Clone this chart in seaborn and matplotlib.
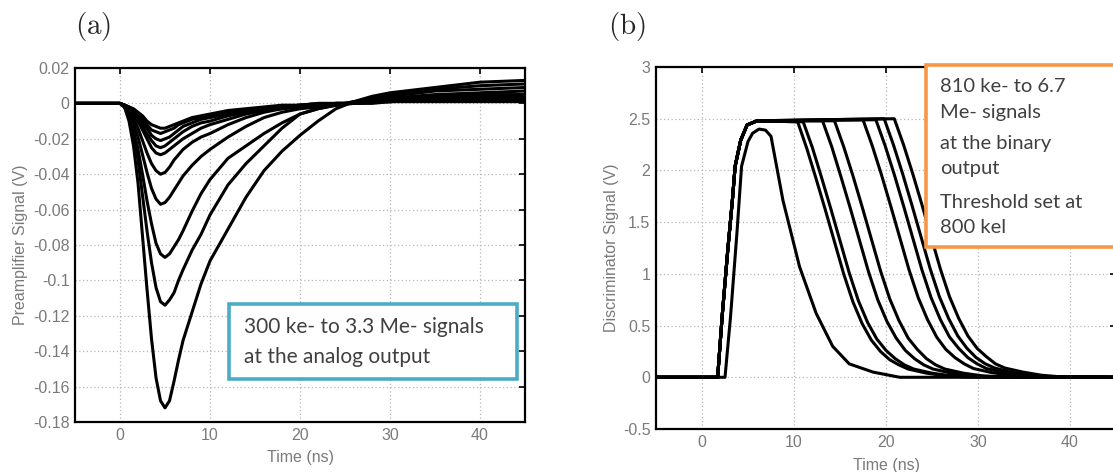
import matplotlib
matplotlib.use('Agg')
import matplotlib.pyplot as plt
import seaborn as sns
import pandas as pd
from matplotlib.patches import Rectangle
from matplotlib.ticker import FuncFormatter


# (a) preamplifier output, 300 ke- .. 3.3 Me-, sampled on one time grid (ns)
T_PRE = [-5, 0, 0.5, 1, 1.5, 2, 2.5, 3, 3.5, 4, 4.5, 5, 5.5, 6, 6.5, 7,
         8, 9, 10, 12, 14, 16, 18, 20, 22, 24, 26, 28, 30, 35, 40, 45]

PRE_1 = [0, 0, -0.001, -0.002, -0.003, -0.005, -0.007, -0.010, -0.012, -0.013, -0.014, -0.014,
         -0.013, -0.012, -0.011, -0.010, -0.008, -0.007, -0.006, -0.004, -0.003, -0.002,
         -0.001, -0.001, 0.0, 0.0, 0.0, 0.0, 0.001, 0.001, 0.001, 0.001]
PRE_2 = [0, 0, -0.001, -0.002, -0.004, -0.006, -0.009, -0.012, -0.015, -0.016, -0.017, -0.016,
         -0.015, -0.014, -0.012, -0.011, -0.009, -0.008, -0.007, -0.005, -0.004, -0.003,
         -0.002, -0.001, 0.0, 0.0, 0.0, 0.001, 0.001, 0.002, 0.002, 0.002]
PRE_3 = [0, 0, -0.001, -0.002, -0.004, -0.007, -0.011, -0.014, -0.018, -0.020, -0.021, -0.020,
         -0.019, -0.017, -0.015, -0.013, -0.011, -0.009, -0.008, -0.006, -0.004, -0.003,
         -0.002, -0.001, -0.001, 0.0, 0.0, 0.001, 0.001, 0.002, 0.003, 0.003]
PRE_4 = [0, 0, -0.001, -0.003, -0.005, -0.009, -0.013, -0.017, -0.021, -0.024, -0.025, -0.024,
         -0.022, -0.020, -0.018, -0.016, -0.013, -0.011, -0.010, -0.007, -0.005, -0.003,
         -0.002, -0.001, -0.001, 0.0, 0.0, 0.001, 0.001, 0.003, 0.003, 0.004]
PRE_5 = [0, 0, -0.001, -0.003, -0.006, -0.010, -0.015, -0.020, -0.025, -0.028, -0.029, -0.028,
         -0.026, -0.024, -0.022, -0.020, -0.017, -0.014, -0.012, -0.009, -0.006, -0.004,
         -0.003, -0.002, -0.001, 0.0, 0.0, 0.001, 0.002, 0.003, 0.004, 0.004]
PRE_6 = [0, 0, -0.001, -0.004, -0.008, -0.014, -0.021, -0.028, -0.034, -0.038, -0.040, -0.039,
         -0.036, -0.032, -0.029, -0.026, -0.022, -0.019, -0.017, -0.012, -0.008, -0.005,
         -0.003, -0.002, -0.001, 0.0, 0.0, 0.001, 0.002, 0.004, 0.005, 0.005]
PRE_7 = [0, 0, -0.001, -0.005, -0.011, -0.019, -0.029, -0.039, -0.048, -0.054, -0.057, -0.056,
         -0.053, -0.049, -0.045, -0.041, -0.035, -0.030, -0.026, -0.019, -0.013, -0.008,
         -0.005, -0.003, -0.002, -0.001, 0.0, 0.002, 0.003, 0.005, 0.006, 0.007]
PRE_8 = [0, 0, -0.002, -0.007, -0.015, -0.026, -0.040, -0.055, -0.068, -0.079, -0.085, -0.087,
         -0.085, -0.081, -0.077, -0.072, -0.061, -0.051, -0.043, -0.031, -0.024, -0.017,
         -0.011, -0.006, -0.003, -0.001, 0.001, 0.002, 0.004, 0.007, 0.008, 0.009]
PRE_9 = [0, 0, -0.002, -0.008, -0.018, -0.032, -0.052, -0.072, -0.090, -0.104, -0.112, -0.114,
         -0.111, -0.107, -0.100, -0.094, -0.083, -0.074, -0.063, -0.046, -0.034, -0.024,
         -0.014, -0.006, -0.003, -0.001, 0.001, 0.003, 0.005, 0.008, 0.010, 0.011]
PRE_10 = [0, 0, -0.002, -0.010, -0.024, -0.045, -0.075, -0.105, -0.133, -0.155, -0.168, -0.172,
          -0.168, -0.157, -0.145, -0.134, -0.118, -0.102, -0.089, -0.071, -0.053, -0.038,
          -0.027, -0.018, -0.010, -0.003, 0.001, 0.004, 0.006, 0.009, 0.012, 0.013]
PRE_CURVES = [PRE_1, PRE_2, PRE_3, PRE_4, PRE_5, PRE_6, PRE_7, PRE_8, PRE_9, PRE_10]

# (b) discriminator output; shared leading edge, then each curve's trailing edge
RISE_T = [-5, 1.7, 2.2, 2.8, 3.3, 3.6, 4.2, 4.9, 6.0]
RISE_V = [0, 0, 0.60, 1.23, 1.71, 2.04, 2.29, 2.44, 2.48]

LOW_T = [-5, 2.5, 3.1, 3.8, 4.3, 5.0, 5.5, 6.2, 6.9, 7.5, 8.8, 10.6, 12.4, 14.2, 16.0, 18.6, 21.5, 45]
LOW_V = [0, 0, 0.585, 1.40, 2.04, 2.28, 2.36, 2.40, 2.39, 2.33, 1.71, 1.07, 0.62, 0.30, 0.13, 0.05, 0.0, 0.0]

FALL_T = [
    [10.4, 11.4, 12.4, 13.4, 14.4, 15.4, 16.4, 17.4, 18.4, 19.4, 20.4, 21.4, 22.4, 24.4, 26.4, 28.4, 45],
    [11.0, 12.0, 13.0, 14.0, 15.0, 16.0, 17.0, 18.0, 19.0, 20.0, 21.0, 22.0, 23.0, 25.0, 27.0, 29.0, 45],
    [13.1, 14.1, 15.1, 16.1, 17.1, 18.1, 19.1, 20.1, 21.1, 22.1, 23.1, 24.1, 25.1, 27.1, 29.1, 31.1, 45],
    [14.4, 15.4, 16.4, 17.4, 18.4, 19.4, 20.4, 21.4, 22.4, 23.4, 24.4, 25.4, 26.4, 28.4, 30.4, 32.4, 45],
    [17.5, 18.5, 19.5, 20.5, 21.5, 22.5, 23.5, 24.5, 25.5, 26.5, 27.5, 28.5, 29.5, 31.5, 33.5, 35.5, 45],
    [18.9, 19.9, 20.9, 21.9, 22.9, 23.9, 24.9, 25.9, 26.9, 27.9, 28.9, 29.9, 30.9, 32.9, 34.9, 36.9, 45],
    [19.8, 20.8, 21.8, 22.8, 23.8, 24.8, 25.8, 26.8, 27.8, 28.8, 29.8, 30.8, 31.8, 33.8, 35.8, 37.8, 45],
    [20.9, 21.9, 22.9, 23.9, 24.9, 25.9, 26.9, 27.9, 28.9, 29.9, 30.9, 31.9, 32.9, 34.9, 36.9, 38.9, 45],
]
FALL_V = [
    [2.47, 2.21, 1.92, 1.62, 1.31, 1.00, 0.73, 0.52, 0.36, 0.25, 0.17, 0.12, 0.08, 0.04, 0.015, 0.005, 0.0],
    [2.47, 2.22, 1.93, 1.63, 1.32, 1.01, 0.74, 0.53, 0.37, 0.26, 0.18, 0.12, 0.08, 0.04, 0.015, 0.005, 0.0],
    [2.48, 2.23, 1.94, 1.64, 1.33, 1.02, 0.75, 0.54, 0.38, 0.26, 0.18, 0.12, 0.08, 0.04, 0.015, 0.005, 0.0],
    [2.48, 2.23, 1.95, 1.65, 1.34, 1.03, 0.76, 0.55, 0.38, 0.27, 0.18, 0.12, 0.08, 0.04, 0.015, 0.005, 0.0],
    [2.49, 2.24, 1.96, 1.66, 1.35, 1.04, 0.77, 0.56, 0.39, 0.27, 0.19, 0.13, 0.085, 0.045, 0.02, 0.005, 0.0],
    [2.49, 2.24, 1.96, 1.66, 1.35, 1.04, 0.77, 0.56, 0.39, 0.28, 0.19, 0.13, 0.085, 0.045, 0.02, 0.005, 0.0],
    [2.50, 2.25, 1.97, 1.67, 1.36, 1.05, 0.78, 0.57, 0.40, 0.28, 0.19, 0.13, 0.09, 0.045, 0.02, 0.005, 0.0],
    [2.50, 2.25, 1.97, 1.67, 1.36, 1.05, 0.78, 0.57, 0.40, 0.28, 0.20, 0.13, 0.09, 0.05, 0.02, 0.005, 0.0],
]

TEXT_A = ['300 ke- to 3.3 Me- signals', 'at the analog output']
TEXT_B = ['810 ke- to 6.7', 'Me- signals', 'at the binary', 'output', 'Threshold set at', '800 kel']

GRAY = '#7a7a7a'


def tick_fmt(v, pos):
    """
    MATLAB-like tick labels: 0, -0.1, 0.02 ...
    """
    if abs(v) < 1e-12:
        return '0'
    return '%g' % v


def style_axes(ax):
    """
    Boxed axes with inward ticks on all sides and dotted grid
    """
    for s in ax.spines.values():
        s.set_visible(True)
        s.set_color('black')
        s.set_linewidth(1.6)
    ax.tick_params(direction='in', length=4, width=1.2, color='black',
                   top=True, right=True, labelcolor=GRAY, labelsize=11.5, pad=4)
    ax.grid(True, color='#b5b5b5', linestyle=(0, (1, 2)), linewidth=0.9)
    ax.set_axisbelow(True)
    ax.yaxis.set_major_formatter(FuncFormatter(tick_fmt))
    ax.set_xticks([0, 10, 20, 30, 40])


sns.set_theme(style='white')
plt.rcParams['font.family'] = ['Liberation Sans', 'DejaVu Sans']
plt.rcParams['axes.unicode_minus'] = False
plt.rcParams['mathtext.fontset'] = 'cm'

fig = plt.figure(figsize=(11.13, 4.72), dpi=100)
ax_a = fig.add_axes([0.0674, 0.1059, 0.4043, 0.7500])
ax_b = fig.add_axes([0.5894, 0.0911, 0.4133, 0.7669])

# panel (a)
rows = []
for i, vals in enumerate(PRE_CURVES):
    for t, v in zip(T_PRE, vals):
        rows.append((i, t, v))
pre_df = pd.DataFrame(rows, columns=['curve', 't', 'v'])
sns.lineplot(data=pre_df, x='t', y='v', units='curve', estimator=None, sort=False,
             color='black', lw=2.2, ax=ax_a)
ax_a.set_xlim(-5, 45)
ax_a.set_ylim(-0.18, 0.02)
ax_a.set_yticks([0.02, 0, -0.02, -0.04, -0.06, -0.08, -0.1, -0.12, -0.14, -0.16, -0.18])
style_axes(ax_a)
ax_a.set_xlabel('Time (ns)', color=GRAY, fontsize=11.5)
ax_a.set_ylabel('Preamplifier Signal (V)', color=GRAY, fontsize=11.5)
ax_a.xaxis.set_label_coords(0.5, -0.08)
ax_a.yaxis.set_label_coords(-0.105, 0.5)

# panel (b)
rows = []
for t, v in zip(LOW_T, LOW_V):
    rows.append((0, t, v))
for i, (ft, fv) in enumerate(zip(FALL_T, FALL_V)):
    for t, v in zip(RISE_T + ft, RISE_V + fv):
        rows.append((i + 1, t, v))
dis_df = pd.DataFrame(rows, columns=['curve', 't', 'v'])
sns.lineplot(data=dis_df, x='t', y='v', units='curve', estimator=None, sort=False,
             color='black', lw=2.2, ax=ax_b)
ax_b.set_xlim(-5, 45)
ax_b.set_ylim(-0.5, 3)
ax_b.set_yticks([-0.5, 0, 0.5, 1, 1.5, 2, 2.5, 3])
style_axes(ax_b)
ax_b.set_xlabel('Time (ns)', color=GRAY, fontsize=11.5)
ax_b.set_ylabel('Discriminator Signal (V)', color=GRAY, fontsize=11.5)
ax_b.xaxis.set_label_coords(0.5, -0.08)
ax_b.yaxis.set_label_coords(-0.08, 0.5)

# text boxes
box_a = Rectangle((0.2058, 0.197), 0.2588, 0.1589, transform=fig.transFigure,
                  facecolor='white', edgecolor='#4bacc6', lw=2.6, zorder=5)
fig.add_artist(box_a)
for txt, y in zip(TEXT_A, [0.3072, 0.2436]):
    fig.text(0.2192, y, txt, fontsize=15, color='#404040', family='Lato',
             va='center', ha='left', zorder=6)

box_b = Rectangle((0.832, 0.4767), 0.2, 0.3856, transform=fig.transFigure,
                  facecolor='white', edgecolor='#f79646', lw=2.6, zorder=5)
fig.add_artist(box_b)
for txt, y in zip(TEXT_B, [0.8157, 0.7606, 0.697, 0.644, 0.572, 0.519]):
    fig.text(0.8446, y, txt, fontsize=14.5, color='#404040', family='Lato',
             va='center', ha='left', zorder=6)

fig.text(0.0836, 0.943, r'$\mathrm{(a)}$', fontsize=21, ha='center', va='center')
fig.text(0.5633, 0.943, r'$\mathrm{(b)}$', fontsize=21, ha='center', va='center')

fig.savefig('out.png', dpi=100)
